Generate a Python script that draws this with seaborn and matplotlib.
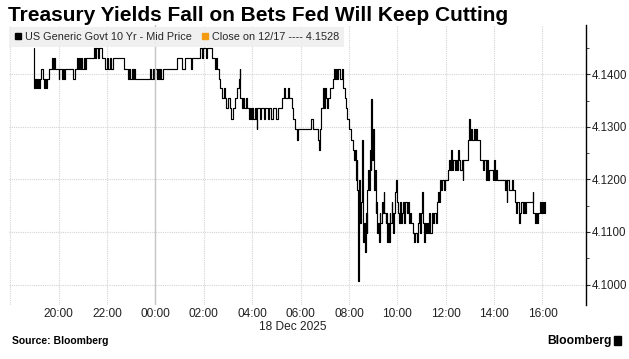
import matplotlib
matplotlib.use("Agg")
import matplotlib.pyplot as plt
import matplotlib.dates as mdates
from matplotlib import font_manager
from matplotlib.lines import Line2D
from matplotlib.patches import Rectangle
from matplotlib.ticker import MultipleLocator, FormatStrFormatter
import pandas as pd
import seaborn as sns

# --- data (US 10y, intraday, step series) ---
times = [
    "18:58", "18:59", "19:01", "19:03", "19:05", "19:07", "19:09", "19:11", "19:14", "19:17",
    "19:21", "19:24", "19:26", "19:28", "19:31", "19:35", "19:43", "19:45", "19:48", "19:51",
    "20:00", "20:02", "20:08", "20:10", "20:14", "20:16", "20:36", "20:40", "20:45", "20:48",
    "20:50", "20:53", "20:56", "20:59", "21:02", "21:05", "21:08", "21:27", "21:30", "21:33",
    "21:38", "21:41", "21:47", "21:56", "22:00", "22:03", "22:08", "22:10", "22:16", "22:41",
    "22:52", "22:55", "22:58", "23:01", "23:04", "23:07", "23:10", "23:47", "23:50", "23:53",
    "23:56",
    "00:00", "00:03", "00:06", "00:09", "00:12", "00:15", "00:18", "00:53", "01:05", "01:14",
    "01:28", "01:31", "01:51", "01:56", "01:59", "02:05", "02:08", "02:20", "02:28", "02:31",
    "02:34", "02:38", "02:41", "02:46", "02:50", "02:53", "02:56", "03:00", "03:05", "03:08",
    "03:12", "03:17", "03:22", "03:27", "03:29", "03:31", "03:34", "03:37", "03:40", "03:44",
    "03:48", "03:51", "03:54", "03:57", "04:00", "04:03", "04:06", "04:09", "04:11", "04:13",
    "04:20", "04:23", "04:30", "04:33", "04:40", "04:43", "04:48", "04:51", "05:00", "05:04",
    "05:14", "05:19", "05:21", "05:29", "05:31", "05:39", "05:42", "05:47", "05:52", "05:54",
    "06:26", "06:30", "06:43", "06:47", "06:49", "06:52", "06:55", "06:57", "07:00", "07:02",
    "07:05", "07:08", "07:13", "07:20", "07:23", "07:26", "07:28", "07:31", "07:34", "07:38",
    "07:42", "07:46", "07:50", "07:53", "07:56", "08:00", "08:05", "08:09", "08:12", "08:14",
    "08:17", "08:19", "08:21", "08:23", "08:24", "08:26", "08:28", "08:30", "08:32", "08:34",
    "08:36", "08:38", "08:40", "08:42", "08:44", "08:46", "08:48", "08:50", "08:52", "08:54",
    "08:56", "08:58", "09:00", "09:02", "09:04", "09:06", "09:08", "09:10", "09:12", "09:14",
    "09:16", "09:18", "09:21", "09:24", "09:26", "09:28", "09:31", "09:33", "09:35", "09:37",
    "09:39", "09:41", "09:43", "09:46", "09:48", "09:50", "09:52", "09:55", "09:57", "09:59",
    "10:02", "10:04", "10:06", "10:08", "10:11", "10:14", "10:17", "10:20", "10:23", "10:26",
    "10:29", "10:32", "10:35", "10:39", "10:42", "10:45", "10:48", "10:51", "10:55", "10:57",
    "11:00", "11:02", "11:04", "11:06", "11:08", "11:11", "11:13", "11:16", "11:19", "11:22",
    "11:25", "11:28", "11:32", "11:35", "11:38", "11:41", "11:43", "11:46", "11:49", "11:52",
    "11:55", "11:58", "12:05", "12:08", "12:11", "12:14", "12:16", "12:19", "12:22", "12:25",
    "12:28", "12:30", "12:32", "12:36", "12:40", "12:42", "12:44", "12:56", "12:58", "13:00",
    "13:03", "13:06", "13:09", "13:12", "13:15", "13:18", "13:25", "13:33", "13:36", "13:39",
    "13:42", "13:45", "13:48", "13:57", "14:00", "14:02", "14:05", "14:07", "14:27", "14:29",
    "14:31", "14:33", "14:36", "14:44", "14:46", "14:52", "14:55", "14:58", "15:02", "15:04",
    "15:08", "15:11", "15:14", "15:17", "15:20", "15:36", "15:37", "15:41", "15:43", "15:47",
    "15:49", "15:54", "15:56", "15:59", "16:02", "16:05", "16:07",
]
yields = [
    4.1450, 4.1374, 4.1392, 4.1374, 4.1392, 4.1374, 4.1392, 4.1374, 4.1392, 4.1411,
    4.1392, 4.1374, 4.1392, 4.1374, 4.1392, 4.1411, 4.1431, 4.1411, 4.1431, 4.1411,
    4.1392, 4.1411, 4.1392, 4.1411, 4.1392, 4.1411, 4.1392, 4.1411, 4.1431, 4.1411,
    4.1431, 4.1411, 4.1431, 4.1411, 4.1431, 4.1411, 4.1431, 4.1450, 4.1431, 4.1450,
    4.1431, 4.1450, 4.1431, 4.1411, 4.1431, 4.1411, 4.1431, 4.1411, 4.1431, 4.1411,
    4.1392, 4.1411, 4.1392, 4.1411, 4.1392, 4.1411, 4.1392, 4.1411, 4.1392, 4.1411,
    4.1392,
    4.1411, 4.1392, 4.1411, 4.1392, 4.1411, 4.1392, 4.1411, 4.1431, 4.1411, 4.1431,
    4.1411, 4.1431, 4.1450, 4.1431, 4.1450, 4.1431, 4.1450, 4.1431, 4.1411, 4.1431,
    4.1411, 4.1392, 4.1374, 4.1355, 4.1374, 4.1355, 4.1336, 4.1355, 4.1336, 4.1315,
    4.1336, 4.1355, 4.1374, 4.1392, 4.1411, 4.1355, 4.1336, 4.1355, 4.1336, 4.1355,
    4.1336, 4.1315, 4.1336, 4.1315, 4.1336, 4.1315, 4.1336, 4.1315, 4.1296, 4.1336,
    4.1315, 4.1336, 4.1315, 4.1336, 4.1315, 4.1336, 4.1315, 4.1336, 4.1315, 4.1336,
    4.1355, 4.1374, 4.1355, 4.1374, 4.1355, 4.1336, 4.1315, 4.1296, 4.1276, 4.1296,
    4.1315, 4.1296, 4.1276, 4.1256, 4.1296, 4.1336, 4.1374, 4.1336, 4.1374, 4.1355,
    4.1336, 4.1355, 4.1374, 4.1392, 4.1411, 4.1392, 4.1411, 4.1392, 4.1411, 4.1392,
    4.1411, 4.1374, 4.1355, 4.1336, 4.1315, 4.1296, 4.1276, 4.1256, 4.1237, 4.1256,
    4.1199, 4.1237, 4.1180, 4.1006, 4.1137, 4.1199, 4.1118, 4.1157, 4.1276, 4.1137,
    4.1080, 4.1118, 4.1061, 4.1137, 4.1099, 4.1180, 4.1218, 4.1180, 4.1256, 4.1218,
    4.1353, 4.1237, 4.1296, 4.1180, 4.1218, 4.1137, 4.1157, 4.1099, 4.1118, 4.1080,
    4.1137, 4.1118, 4.1157, 4.1137, 4.1176, 4.1137, 4.1118, 4.1137, 4.1080, 4.1118,
    4.1080, 4.1137, 4.1118, 4.1157, 4.1137, 4.1099, 4.1137, 4.1176, 4.1199, 4.1157,
    4.1137, 4.1118, 4.1157, 4.1118, 4.1137, 4.1157, 4.1118, 4.1157, 4.1137, 4.1157,
    4.1118, 4.1137, 4.1118, 4.1099, 4.1080, 4.1099, 4.1080, 4.1118, 4.1137, 4.1099,
    4.1137, 4.1176, 4.1118, 4.1080, 4.1118, 4.1099, 4.1118, 4.1099, 4.1137, 4.1099,
    4.1137, 4.1118, 4.1137, 4.1118, 4.1157, 4.1176, 4.1157, 4.1199, 4.1180, 4.1199,
    4.1180, 4.1199, 4.1218, 4.1237, 4.1218, 4.1256, 4.1218, 4.1237, 4.1218, 4.1237,
    4.1218, 4.1256, 4.1237, 4.1218, 4.1237, 4.1199, 4.1237, 4.1276, 4.1315, 4.1276,
    4.1296, 4.1276, 4.1296, 4.1276, 4.1296, 4.1276, 4.1237, 4.1218, 4.1237, 4.1199,
    4.1237, 4.1199, 4.1218, 4.1199, 4.1237, 4.1199, 4.1218, 4.1199, 4.1180, 4.1199,
    4.1157, 4.1199, 4.1180, 4.1199, 4.1180, 4.1157, 4.1137, 4.1157, 4.1118, 4.1137,
    4.1157, 4.1137, 4.1157, 4.1137, 4.1157, 4.1176, 4.1137, 4.1118, 4.1137, 4.1118,
    4.1137, 4.1157, 4.1137, 4.1157, 4.1137, 4.1157, 4.1137,
]
prev_close = 4.1528
series_label = "US Generic Govt 10 Yr - Mid Price"
close_label = f"Close on 12/17 ---- {prev_close:.4f}"
ytick_values = [4.10, 4.11, 4.12, 4.13, 4.14]

# timestamps: evening times belong to 17 Dec, the rest to 18 Dec
stamps = pd.to_datetime(["2025-12-17 " + t for t in times])
stamps = stamps + pd.to_timedelta((stamps.hour < 18).astype(int), unit="D")
df = pd.DataFrame({"time": stamps, "yield": yields})

sns.set_style("white")
installed = {f.name for f in font_manager.fontManager.ttflist}
narrow = "Liberation Sans Narrow" if "Liberation Sans Narrow" in installed else "Liberation Sans"
plt.rcParams["font.family"] = ["Liberation Sans", "DejaVu Sans"]

fig = plt.figure(figsize=(6.29, 3.59), dpi=100)
W, H = 629, 359
ax = fig.add_axes([9 / W, 54 / H, 577 / W, 280 / H])

sns.lineplot(data=df, x="time", y="yield", ax=ax, color="black", lw=0.85,
             drawstyle="steps-post", estimator=None, sort=False)
ax.axhline(prev_close, color="#f39c12", lw=1, ls="--")

ax.set_xlim(pd.Timestamp("2025-12-17 17:57"), pd.Timestamp("2025-12-18 17:48"))
ax.set_ylim(4.0961, 4.1494)

# axes styling
grid_kw = dict(color="#d4d4d4", lw=0.8, ls=(0, (1, 1)))
ax.xaxis.set_major_locator(mdates.HourLocator(byhour=[0, 2, 4, 6, 8, 10, 12, 14, 16, 20, 22]))
ax.xaxis.set_major_formatter(mdates.DateFormatter("%H:%M"))
ax.set_yticks(ytick_values)
ax.yaxis.set_major_formatter(FormatStrFormatter("%.4f"))
ax.yaxis.set_minor_locator(MultipleLocator(0.005))
ax.yaxis.tick_right()
ax.grid(True, which="major", **grid_kw)
ax.axvline(pd.Timestamp("2025-12-17 18:00"), **grid_kw)
ax.axvline(pd.Timestamp("2025-12-18 00:00"), color="#c6c6c6", lw=1.0)
ax.set_axisbelow(True)
for s in ["left", "top", "bottom"]:
    ax.spines[s].set_visible(False)
ax.spines["right"].set_color("black")
ax.spines["right"].set_linewidth(1.0)
ax.tick_params(axis="x", length=0, pad=2, labelsize=8.6, labelcolor="#222222")
ax.tick_params(axis="y", which="major", length=3, width=0.8, pad=1, labelsize=8.3,
               labelcolor="#222222", right=True, left=False)
ax.tick_params(axis="y", which="minor", length=2, width=0.6, right=True, left=False)
ax.set_xlabel("")
ax.set_ylabel("")

# legend strip
handles = [
    Line2D([], [], marker="s", color="black", ls="none", markersize=5),
    Line2D([], [], marker="s", color="#f39c12", ls="none", markersize=5),
]
leg = ax.legend(handles, [series_label, close_label], loc="upper left",
                bbox_to_anchor=(0.0, 0.993), ncol=2, frameon=True, fancybox=False,
                borderaxespad=0, borderpad=0.45, handlelength=0.7, handletextpad=0.3,
                columnspacing=0.9, prop={"family": narrow, "size": 7.8})
leg.get_frame().set_facecolor("#efefef")
leg.get_frame().set_edgecolor("none")
leg.get_frame().set_alpha(0.92)

# texts around the chart
title_size = 17.5 if narrow != "Liberation Sans" else 15
fig.text(8 / W, 1 - 21 / H, "Treasury Yields Fall on Bets Fed Will Keep Cutting",
         fontsize=title_size, fontweight="bold", family=[narrow, "DejaVu Sans"],
         color="black", va="baseline")
fig.text(259 / W, 1 - 327 / H, "18 Dec 2025", fontsize=8.6, color="#222222", va="center")
fig.text(12 / W, 1 - 341 / H, "Source: Bloomberg", fontsize=7.5, fontweight="bold",
         color="black", va="center")
fig.text(612 / W, 1 - 341 / H, "Bloomberg", fontsize=8.7, fontweight="bold",
         color="black", va="center", ha="right")
fig.patches.append(Rectangle((614 / W, 1 - 345 / H), 7 / W, 9 / H,
                             transform=fig.transFigure, color="black"))

fig.savefig("out.png", dpi=100)
